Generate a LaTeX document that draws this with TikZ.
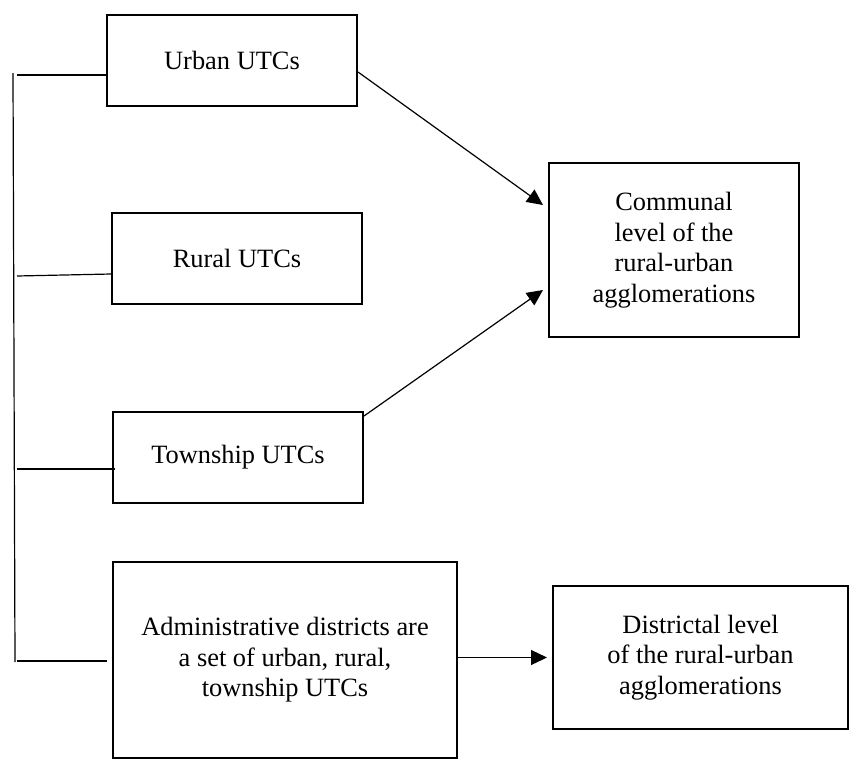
\documentclass[tikz,border=0pt]{standalone}
\usepackage{fontspec}
\setmainfont{Liberation Serif}
\usetikzlibrary{arrows.meta,calc}
\begin{document}
\begin{tikzpicture}[x=0.5pt,y=-0.5pt,
  box/.style={draw,line width=1pt,align=center,inner sep=0pt,
    font=\fontsize{13.2pt}{15.3pt}\selectfont},
  conn/.style={line width=0.6pt},
  arr/.style={line width=0.6pt,-{Triangle[length=8pt,width=7.5pt]}}]
\useasboundingbox (0,0) rectangle (849,760);
\node[box,minimum width=125pt,minimum height=45.5pt] (urban) at (232,60.5) {Urban UTCs};
\node[box,minimum width=125pt,minimum height=45.5pt] (rural) at (237,258.5) {Rural UTCs};
\node[box,minimum width=125pt,minimum height=45.5pt] (town) at (238,457.5) {Township UTCs};
\node[box,minimum width=172pt,minimum height=98pt] (admin) at (285,660) {Administrative districts are\\a set of urban, rural,\\township UTCs};
\node[box,minimum width=125pt,minimum height=87pt] (comm) at (674,250) {Communal\\level of the\\rural-urban\\agglomerations};
\node[box,minimum width=147.5pt,minimum height=71.5pt] (dist) at (700.5,657.5) {Districtal level\\of the rural-urban\\agglomerations};
\coordinate (vtop) at (13,73);
\coordinate (vbot) at (15,662);
\coordinate (l1) at (17,75);
\coordinate (l2) at (17,276);
\coordinate (l3) at (17,469);
\coordinate (l4) at (17,661);
\draw[conn] (vtop) -- (vbot);
\draw[conn] (l1) -- (l1 -| urban.west);
\draw[conn] (l2) -- ($(rural.west)+(0,15.5)$);
\draw[conn] (l3) -- ($(l3 -| town.west)+(3,0)$);
\draw[conn] (l4) -- ($(l4 -| admin.west)+(-5,0)$);
\draw[arr] ($(urban.east)+(0,11.5)$) -- ($(comm.west)+(-5,-45)$);
\draw[arr] ($(town.north east)+(0,5)$) -- ($(comm.west)+(-5,40)$);
\draw[arr] (admin.east |- dist.west) -- ($(dist.west)+(-5,0)$);
\end{tikzpicture}
\end{document}
